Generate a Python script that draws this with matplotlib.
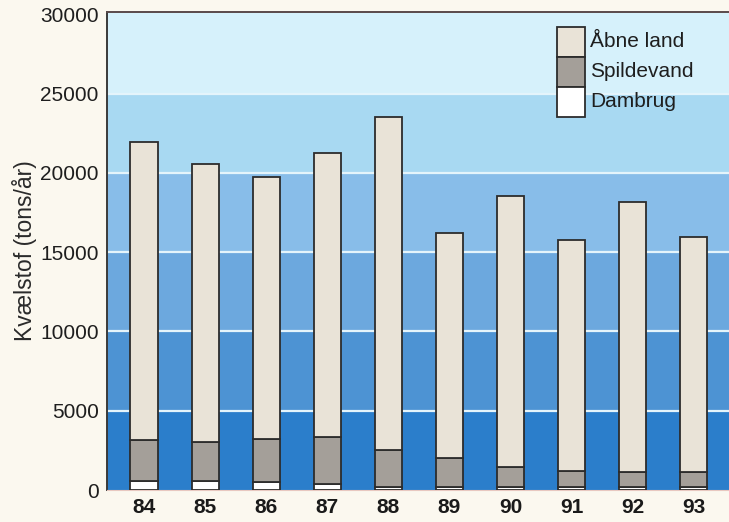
import matplotlib
matplotlib.use("Agg")
import matplotlib.pyplot as plt
from matplotlib.patches import Rectangle
import numpy as np

plt.rcParams['font.family'] = ['Liberation Sans', 'DejaVu Sans']

# Nitrogen load (tons/year) by source
years = ["84", "85", "86", "87", "88", "89", "90", "91", "92", "93"]
dambrug = [590, 550, 500, 360, 210, 200, 200, 200, 200, 200]
spildevand = [2560, 2460, 2720, 2960, 2310, 1850, 1270, 1000, 920, 920]
aabne_land = [18790, 17580, 16510, 17960, 21030, 14150, 17100, 14550, 17050, 14860]

series_labels = ["Åbne land", "Spildevand", "Dambrug"]
series_colors = ["#e9e3d7", "#a49f99", "#ffffff"]

y_ticks = [0, 5000, 10000, 15000, 20000, 25000, 30000]
band_colors = ["#2b7ecb", "#4d93d3", "#6ca8de", "#88bde9", "#a8d9f2", "#d6f1fb"]

fig = plt.figure(figsize=(7.29, 5.22), dpi=100)
fig.patch.set_facecolor("#fbf8ef")
ax = fig.add_axes([0.1468, 0.0613, 0.8532, 0.9157])

# horizontal colour bands with thin light separators
for i in range(len(y_ticks) - 1):
    ax.axhspan(y_ticks[i], y_ticks[i + 1] if i < len(y_ticks) - 2 else 31000,
               color=band_colors[i], lw=0, zorder=0)
for t in y_ticks[1:-1]:
    ax.axhline(t, color="#e4f4fb", lw=1.6, zorder=1)

x = np.arange(len(years))
w = 0.445
d = np.array(dambrug)
s = np.array(spildevand)
a = np.array(aabne_land)
edge = dict(edgecolor="#2c2c2c", linewidth=1.3, zorder=3)
ax.bar(x, d, w, color=series_colors[2], **edge)
ax.bar(x, s, w, bottom=d, color=series_colors[1], **edge)
ax.bar(x, a, w, bottom=d + s, color=series_colors[0], **edge)

ax.set_xlim(-0.606, 9.578)
ax.set_ylim(0, 30150)
ax.set_yticks(y_ticks)
ax.set_yticklabels([str(t) for t in y_ticks], fontsize=15, color="#1e1e1e")
ax.set_xticks(x)
ax.set_xticklabels(years, fontsize=15, fontweight="bold", color="#1a1a1a")
ax.tick_params(axis="both", length=0)
ax.tick_params(axis="y", pad=6)
ax.tick_params(axis="x", pad=6)

ax.spines["right"].set_visible(False)
ax.spines["left"].set_color("#3a3a3a")
ax.spines["top"].set_color("#5a4a4a")
ax.spines["bottom"].set_color("#e8c8c0")
ax.spines["left"].set_linewidth(1.4)
ax.spines["top"].set_linewidth(1.4)

ax.set_ylabel("Kvælstof (tons/år)", fontsize=16.5, color="#2a2a2a", labelpad=2)

# legend: stacked swatches touching each other
lx, lw_, lh = 0.723, 0.0455, 0.0628
ltop = 0.969
for i, (lab, col) in enumerate(zip(series_labels, series_colors)):
    y0 = ltop - (i + 1) * lh
    ax.add_patch(Rectangle((lx, y0), lw_, lh, transform=ax.transAxes,
                           facecolor=col, edgecolor="#2c2c2c", lw=1.3, zorder=5))
    ax.text(lx + lw_ + 0.008, y0 + lh / 2, lab, transform=ax.transAxes,
            fontsize=15, va="center", ha="left", color="#1e1e1e", zorder=5)

fig.savefig("out.png", dpi=100, facecolor=fig.get_facecolor())
